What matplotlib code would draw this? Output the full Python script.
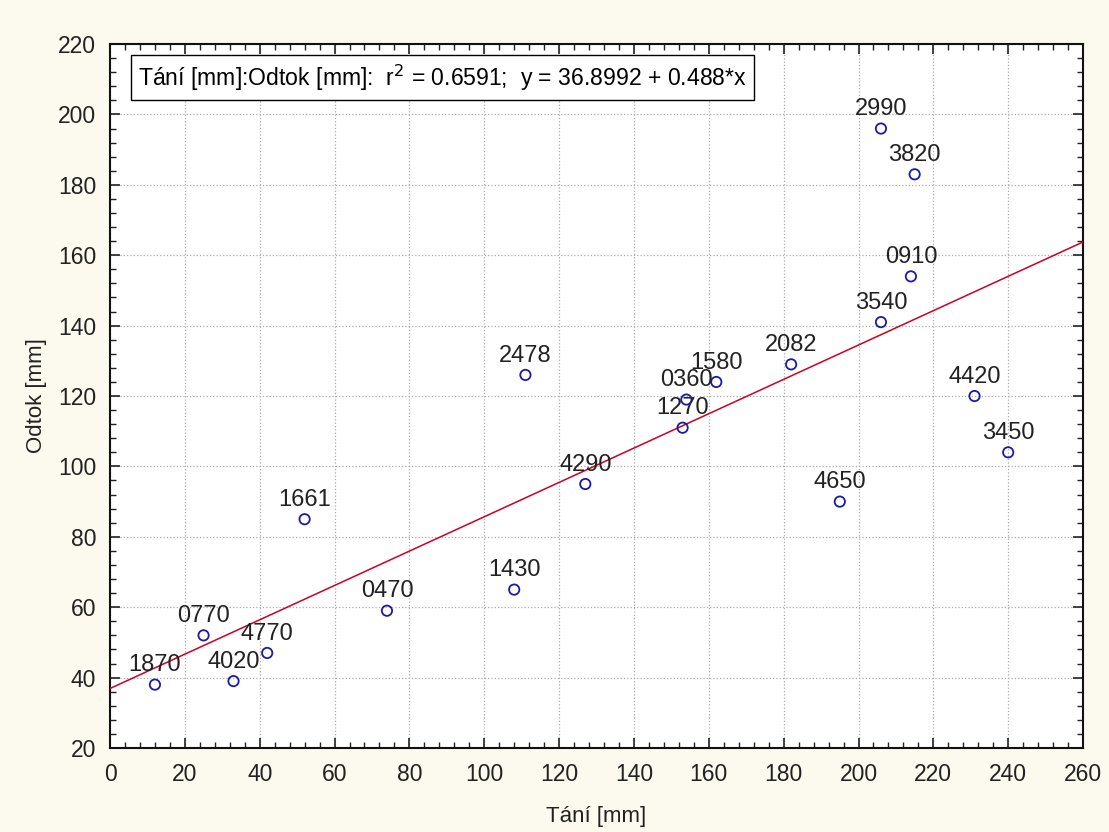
import numpy as np
import matplotlib
matplotlib.use("Agg")
import matplotlib.pyplot as plt
from matplotlib.ticker import MultipleLocator

# data
labels = ["1870", "0770", "4020", "4770", "1661", "0470", "1430", "2478", "4290", "1270",
          "0360", "1580", "2082", "4650", "3540", "2990", "0910", "3820", "4420", "3450"]
tani = [12, 25, 33, 42, 52, 74, 108, 111, 127, 153,
        154, 162, 182, 195, 206, 206, 214, 215, 231, 240]
odtok = [38, 52, 39, 47, 85, 59, 65, 126, 95, 111,
         119, 124, 129, 90, 141, 196, 154, 183, 120, 104]

intercept = 36.8992
slope = 0.488

plt.rcParams['font.family'] = ['Liberation Sans', 'DejaVu Sans']

fig = plt.figure(figsize=(11.09, 8.32), dpi=100, facecolor='#fcf9ee')
ax = fig.add_axes([0.0992, 0.101, 0.8774, 0.846])
ax.set_facecolor('white')

ax.set_xlim(0, 260)
ax.set_ylim(20, 220)

# regression line
xx = np.array([0, 260])
ax.plot(xx, intercept + slope * xx, color='#cc0022', lw=1.1, zorder=3)

ax.scatter(tani, odtok, s=55, facecolors='none', edgecolors='#1a1aa8', linewidths=1.3, zorder=4)
for lab, x, y in zip(labels, tani, odtok):
    ax.annotate(lab, (x, y), xytext=(0, 6), textcoords='offset points',
                ha='center', va='bottom', fontsize=17, color='#222222')

ax.text(0.029, 0.974, "Tání [mm]:Odtok [mm]:  r$^2$ = 0.6591;  y = 36.8992 + 0.488*x",
        transform=ax.transAxes, ha='left', va='top', fontsize=16.6,
        bbox=dict(boxstyle='square,pad=0.3', facecolor='white', edgecolor='black', lw=1))

ax.xaxis.set_major_locator(MultipleLocator(20))
ax.xaxis.set_minor_locator(MultipleLocator(4))
ax.yaxis.set_major_locator(MultipleLocator(20))
ax.yaxis.set_minor_locator(MultipleLocator(4))
ax.tick_params(which='both', direction='in', top=True, right=True, labelsize=16.5, colors='#222222')
ax.tick_params(which='major', length=7, width=1.2)
ax.tick_params(which='minor', length=4, width=1)
ax.tick_params(axis='x', pad=11)
ax.tick_params(axis='y', pad=10)

ax.grid(which='major', color='#aaaaaa', linestyle=':', lw=0.9)
for s in ax.spines.values():
    s.set_linewidth(1.5)
    s.set_color('#111111')

ax.set_xlabel("Tání [mm]", fontsize=16, color='#222222', labelpad=14)
ax.set_ylabel("Odtok [mm]", fontsize=16, color='#222222', labelpad=8)

fig.savefig("out.png", dpi=100, facecolor=fig.get_facecolor())
